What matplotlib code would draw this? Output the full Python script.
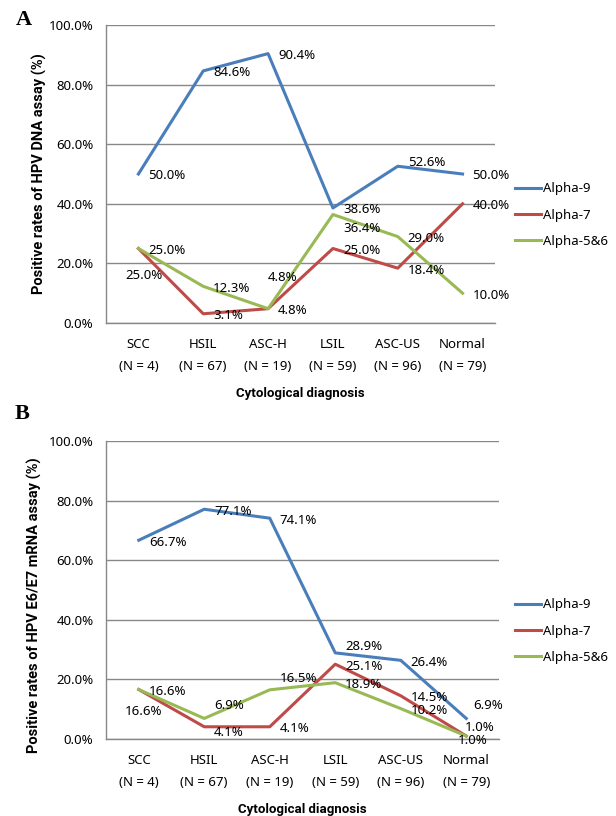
import matplotlib
matplotlib.use('Agg')
import matplotlib.pyplot as plt

plt.rcParams['font.family'] = ['Noto Sans', 'DejaVu Sans']

categories = ['SCC', 'HSIL', 'ASC-H', 'LSIL', 'ASC-US', 'Normal']
n_cases = [4, 67, 19, 59, 96, 79]
series_names = ['Alpha-9', 'Alpha-7', 'Alpha-5&6']

dna_alpha9 = [50.0, 84.6, 90.4, 38.6, 52.6, 50.0]
dna_alpha7 = [25.0, 3.1, 4.8, 25.0, 18.4, 40.0]
dna_alpha56 = [25.0, 12.3, 4.8, 36.4, 29.0, 10.0]

mrna_alpha9 = [66.7, 77.1, 74.1, 28.9, 26.4, 6.9]
mrna_alpha7 = [16.6, 4.1, 4.1, 25.1, 14.5, 1.0]
mrna_alpha56 = [16.6, 6.9, 16.5, 18.9, 10.2, 1.0]

colors = ['#4A7EBB', '#BE4B48', '#98B954']

# labels that were dragged off the default spot, (series, point) -> (dx, dy down) in pixels
dna_nudge = {(1, 0): (-23, 25), (2, 2): (-10, -33), (2, 3): (0, 12), (0, 4): (0, -6)}
mrna_nudge = {(0, 3): (0, -8), (0, 5): (-3, -15), (2, 2): (0, -13), (1, 0): (-24, 20),
              (1, 1): (0, 4), (2, 1): (0, -15), (1, 5): (-11, -11), (2, 5): (-18, 2)}

W, H = 616, 816
fs = 9.5
bold = dict(fontsize=9.5, fontweight='bold', family=['Roboto', 'DejaVu Sans'])
fig = plt.figure(figsize=(W / 100, H / 100), dpi=100)


def px_axes(left, top, right, bottom):
    return fig.add_axes([left / W, 1 - bottom / H, (right - left) / W, (bottom - top) / H])


def draw_panel(ax, series, nudge, legend_y):
    x = list(range(len(categories)))
    for k, (vals, name, color) in enumerate(zip(series, series_names, colors)):
        ax.plot(x, vals, color=color, lw=2.2, label=name, zorder=3)
        for i, v in enumerate(vals):
            dx, dy = nudge.get((k, i), (0, 0))
            ax.annotate(f'{v:.1f}%', (i, v), xytext=(10 + dx, -(2 + dy)),
                        textcoords='offset pixels', ha='left', va='center',
                        fontsize=fs, zorder=4)
    ax.set_xlim(-0.5, len(categories) - 0.5)
    ax.set_ylim(0, 100)
    ax.set_yticks([0, 20, 40, 60, 80, 100])
    ax.set_yticklabels([f'{t:.1f}%' for t in [0, 20, 40, 60, 80, 100]])
    ax.set_xticks(x)
    ax.set_xticklabels([f'{c}\n(N = {n})' for c, n in zip(categories, n_cases)],
                       linespacing=1.95)
    ax.tick_params(length=0, labelsize=fs)
    ax.tick_params(axis='x', pad=10.5)
    ax.tick_params(axis='y', pad=9)
    ax.yaxis.grid(True, color='#888888', lw=1)
    for s in ['top', 'right']:
        ax.spines[s].set_visible(False)
    for s in ['left', 'bottom']:
        ax.spines[s].set_color('#888888')
        ax.spines[s].set_linewidth(1)
    ax.legend(loc='center left', bbox_to_anchor=(515 / W, 1 - legend_y / H),
              bbox_transform=fig.transFigure, frameon=False, handlelength=2.0,
              handletextpad=0.15, labelspacing=1.0, borderpad=0, borderaxespad=0,
              fontsize=fs)


ax1 = px_axes(106, 25, 495, 323)
draw_panel(ax1, [dna_alpha9, dna_alpha7, dna_alpha56], dna_nudge, 215)
ax2 = px_axes(106, 441, 499, 739)
draw_panel(ax2, [mrna_alpha9, mrna_alpha7, mrna_alpha56], mrna_nudge, 631)

ylab = dict(bold, fontsize=10.5)
fig.text(39 / W, 1 - 174 / H, 'Positive rates of HPV DNA assay (%)', rotation=90,
         ha='center', va='center', **ylab)
fig.text(34 / W, 1 - 605 / H, 'Positive rates of HPV E6/E7 mRNA assay (%)', rotation=90,
         ha='center', va='center', **ylab)
fig.text(300 / W, 1 - 393 / H, 'Cytological diagnosis', ha='center', va='center', **bold)
fig.text(302 / W, 1 - 809 / H, 'Cytological diagnosis', ha='center', va='center', **bold)
fig.text(24 / W, 1 - 20 / H, 'A', ha='center', va='center', fontsize=16,
         fontweight='bold', family='Liberation Serif')
fig.text(22 / W, 1 - 414 / H, 'B', ha='center', va='center', fontsize=16,
         fontweight='bold', family='Liberation Serif')

fig.savefig('out.png', dpi=100)
